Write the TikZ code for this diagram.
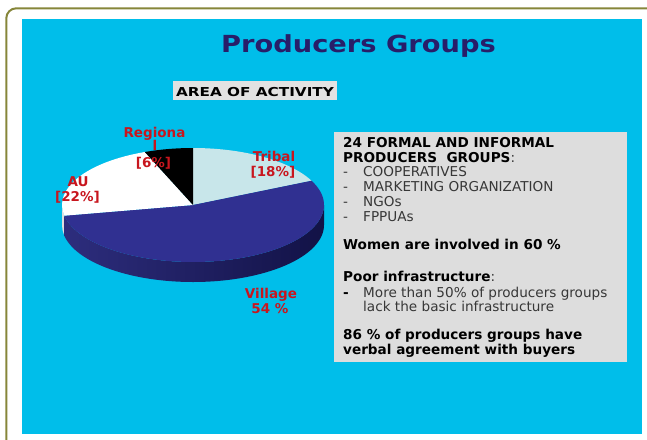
\documentclass[tikz,border=0pt]{standalone}
\usepackage{fontspec}
\setmainfont{DejaVu Sans}
\newfontfamily\titlefont[FakeStretch=1.16]{DejaVu Sans}
\newfontfamily\areafont[FakeStretch=1.24]{DejaVu Sans}
\definecolor{bgblue}{RGB}{0,190,234}
\definecolor{framecol}{RGB}{134,134,58}
\definecolor{titlecol}{RGB}{40,30,105}
\definecolor{labelred}{RGB}{200,22,30}
\definecolor{boxgray}{RGB}{221,221,221}
\definecolor{areagray}{RGB}{226,226,226}
\definecolor{textgray}{RGB}{55,55,55}
\definecolor{tribalcol}{RGB}{200,230,234}
\definecolor{villtop}{RGB}{48,48,145}
\definecolor{sidelight}{RGB}{45,45,125}
\definecolor{sidedark}{RGB}{18,18,70}
\definecolor{ausidecol}{RGB}{222,222,222}
\begin{document}
\begin{tikzpicture}[x=1pt,y=-1pt,
  lbl/.style={anchor=base, inner sep=0pt, text=labelred, font=\bfseries\fontsize{13.5}{16}\selectfont},
  infob/.style={anchor=base west, inner sep=0pt, text=black, font=\bfseries\fontsize{13.6}{15}\selectfont},
  infor/.style={anchor=base west, inner sep=0pt, text=textgray, font=\fontsize{13.6}{15}\selectfont},
  slice/.style={draw=none}]
\useasboundingbox (0,0) rectangle (647,439);
\clip (0,0) rectangle (647,439);
\fill[white] (0,0) rectangle (647,439);
\draw[framecol, line width=2pt, rounded corners=10pt] (6.3,470) -- (6.3,8.3) -- (680,8.3);
\fill[bgblue] (22,19) rectangle (642,434);

% title
\node (title) [anchor=base, inner sep=0pt, text=titlecol, font=\titlefont\bfseries\fontsize{23.5}{28}\selectfont] at (358.5,52) {Producers Groups};

% area of activity
\node (area) [anchor=base, inner sep=0pt, fill=areagray, minimum width=164pt, text height=15pt, text depth=4pt, font=\areafont\bfseries\fontsize{12.3}{15}\selectfont] at (255,96) {AREA OF ACTIVITY};

% pie chart
\begin{scope}[shift={(193,205)}]
  \fill[ausidecol] (180:131pt and 57pt) arc[start angle=180,end angle=190.8,x radius=131pt,y radius=57pt] -- ++(0,-20pt) arc[start angle=190.8,end angle=180,x radius=131pt,y radius=57pt] -- cycle;
  \shade[left color=sidelight, right color=sidedark] (190.8:131pt and 57pt) arc[start angle=190.8,end angle=360,x radius=131pt,y radius=57pt] -- ++(0,-20pt) arc[start angle=360,end angle=190.8,x radius=131pt,y radius=57pt] -- cycle;
  \fill[tribalcol] (0,0) -- (90:131pt and 57pt) arc[start angle=90,end angle=25.2,x radius=131pt,y radius=57pt] -- cycle;
  \fill[villtop] (0,0) -- (25.2:131pt and 57pt) arc[start angle=25.2,end angle=-169.2,x radius=131pt,y radius=57pt] -- cycle;
  \fill[white] (0,0) -- (190.8:131pt and 57pt) arc[start angle=190.8,end angle=111.6,x radius=131pt,y radius=57pt] -- cycle;
  \fill[black] (0,0) -- (111.6:131pt and 57pt) arc[start angle=111.6,end angle=90,x radius=131pt,y radius=57pt] -- cycle;
\end{scope}

% pie labels
\node (reg1) [lbl] at (154.5,137.7) {Regiona};
\node (reg2) [lbl] at (155,150.5) {l};
\node (reg3) [lbl] at (153.5,167) {[6\%]};
\node (tri1) [lbl] at (274,161.7) {Tribal};
\node (tri2) [lbl] at (273,176.7) {[18\%]};
\node (au1) [lbl] at (78,186) {AU};
\node (au2) [lbl] at (77.5,201.7) {[22\%]};
\node (vil1) [lbl] at (271,298.3) {Village};
\node (vil2) [lbl] at (270,313) {54 \%};

% info box
\node (infobox) [anchor=north west, inner sep=0pt, fill=boxgray, minimum width=293pt, minimum height=230pt] at (334,132) {};
\node (i1) [infob] at (343,147.7) {24 FORMAL AND INFORMAL};
\node (i2) [infob] at (343,162.7) {PRODUCERS\ \ GROUPS\textmd{\color{textgray}:}};
\node (d3) [infor] at (343,176.7) {-};
\node (i3) [infor] at (363,176.7) {COOPERATIVES};
\node (d4) [infor] at (343,191.7) {-};
\node (i4) [infor] at (363,191.7) {MARKETING ORGANIZATION};
\node (d5) [infor] at (343,206.7) {-};
\node (i5) [infor] at (363,206.7) {NGOs};
\node (d6) [infor] at (343,221.7) {-};
\node (i6) [infor] at (363,221.7) {FPPUAs};
\node (i7) [infob] at (343,249) {Women are involved in 60 \%};
\node (i8) [infob] at (343,281.7) {Poor infrastructure\textmd{\color{textgray}:}};
\node (d9) [infob] at (343,297.7) {-};
\node (i9) [infor] at (363,297.7) {More than 50\% of producers groups};
\node (i10) [infor] at (363,311) {lack the basic infrastructure};
\node (i11) [infob] at (343,339.3) {86 \% of producers groups have};
\node (i12) [infob] at (343,354.3) {verbal agreement with buyers};
\end{tikzpicture}
\end{document}
